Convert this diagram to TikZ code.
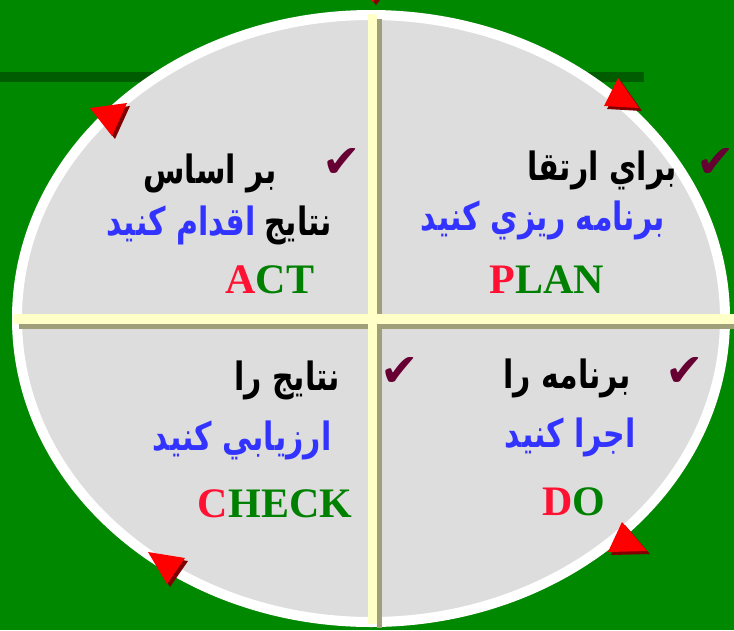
\documentclass[tikz,border=0pt]{standalone}
\usepackage{fontspec}
\usepackage{graphicx}
\setmainfont{Liberation Serif}
\newfontfamily\arabicfont[Script=Arabic]{DejaVu Sans}
\newfontfamily\tickfont{DejaVu Sans}
\usetikzlibrary{positioning}
\TeXXeTstate=1
\definecolor{bggreen}{RGB}{0,136,0}
\definecolor{bandgreen}{RGB}{0,92,0}
\definecolor{ellgrey}{RGB}{221,221,221}
\definecolor{barcream}{RGB}{255,255,200}
\definecolor{barshade}{RGB}{160,160,120}
\definecolor{wordblue}{RGB}{51,51,255}
\definecolor{letterred}{RGB}{255,17,51}
\definecolor{lettergreen}{RGB}{0,128,0}
\definecolor{tickred}{RGB}{102,0,51}
\definecolor{arrowred}{RGB}{255,0,0}
\definecolor{arrowdark}{RGB}{128,0,0}
\newcommand{\redtip}[3]{%
  \fill[arrowdark] ([shift={(3,3)}]#1) -- ([shift={(3,3)}]#2) -- ([shift={(3,3)}]#3) -- cycle;
  \fill[arrowred] (#1) -- (#2) -- (#3) -- cycle;}
\newcommand{\fa}[1]{\scalebox{1}[1.3]{\beginR #1\endR}}
\begin{document}
\begin{tikzpicture}[x=1pt,y=-1pt,
  farsi/.style={font=\arabicfont\bfseries\fontsize{30}{32}\selectfont, inner sep=0pt},
  word/.style={font=\bfseries\fontsize{42}{44}\selectfont, inner sep=0pt, anchor=base},
  tick/.style={font=\tickfont\fontsize{46}{48}\selectfont, text=tickred, inner sep=0pt}]
\useasboundingbox (0,0) rectangle (734,630);
\clip (0,0) rectangle (734,630);
\fill[bggreen] (0,0) rectangle (734,630);
\fill[bandgreen] (0,72) rectangle (644,82);
\draw[white, line width=10pt, fill=ellgrey] (371,318.5) ellipse [x radius=354, y radius=303.5];
\fill[barshade] (377,19) rectangle (382,628);
\fill[barshade] (19,324) rectangle (734,329);
\fill[barcream] (368,14) rectangle (377,624);
\fill[barcream] (14,314) rectangle (734,324);
\redtip{362,-12}{384,-12}{373,2}
\redtip{618,78}{639,108}{604,106}
\redtip{622,522}{647,551}{608,552}
\redtip{148,552}{185,558}{167,584}
\redtip{90,108}{127,103}{112,136}

\node[farsi] (act1) at (210,173) {\fa{بر اساس}};
\node[farsi] (act2a) at (298,225) {\fa{نتايج}};
\node[farsi, text=wordblue, left=8pt of act2a] (act2b) {\fa{اقدام كنيد}};
\node[word] (act) at (270,293) {\textcolor{letterred}{A}\textcolor{lettergreen}{CT}};
\node[tick] (acttick) at (342,163) {✔};

\node[farsi] (plan1) at (602,170) {\fa{براي ارتقا}};
\node[farsi, text=wordblue] (plan2) at (543,220) {\fa{برنامه ريزي كنيد}};
\node[word] (plan) at (547,293) {\textcolor{letterred}{P}\textcolor{lettergreen}{LAN}};
\node[tick] (plantick) at (716,163) {✔};

\node[farsi] (do1) at (567,378) {\fa{برنامه را}};
\node[farsi, text=wordblue] (do2) at (570,437) {\fa{اجرا كنيد}};
\node[word] (do) at (574,515) {\textcolor{letterred}{D}\textcolor{lettergreen}{O}};
\node[tick] (dotick) at (685,372) {✔};

\node[farsi] (check1) at (287,380) {\fa{نتايج را}};
\node[farsi, text=wordblue] (check2) at (242,440) {\fa{ارزيابي كنيد}};
\node[word] (check) at (275,517) {\textcolor{letterred}{C}\textcolor{lettergreen}{HECK}};
\node[tick] (checktick) at (400,372) {✔};
\end{tikzpicture}
\end{document}
